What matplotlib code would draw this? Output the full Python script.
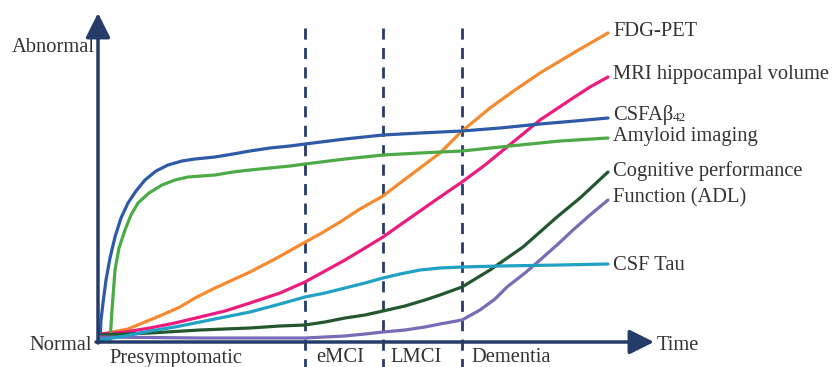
import matplotlib.pyplot as plt

# pixel-like coordinates: x to the right, y downward (Normal ~342, Abnormal ~48)
fdg_x = [102, 128, 145, 162, 180, 195, 215, 250, 275, 300, 320, 340, 360, 383, 400, 420, 440, 462, 490, 515, 540, 575, 608]
fdg_y = [334, 329, 322, 315, 307, 298, 288, 272, 259, 245, 234, 222, 209, 196, 183, 168, 153, 131, 108, 90, 73, 52, 33]

mri_x = [100, 125, 150, 175, 200, 225, 250, 280, 305, 325, 345, 365, 383, 400, 420, 440, 462, 485, 507, 540, 573, 590, 608]
mri_y = [334, 332, 328, 323, 317, 311, 303, 293, 282, 271, 260, 248, 237, 225, 211, 197, 182, 165, 147, 120, 98, 87, 77]

csfab_x = [100, 101, 103, 106, 110, 115, 121, 128, 136, 145, 156, 168, 182, 195, 215, 233, 250, 270, 290, 305, 345, 383, 420, 462, 500, 540, 575, 608]
csfab_y = [342, 320, 303, 280, 258, 237, 218, 203, 191, 180, 171, 165, 161, 159, 157, 154, 151, 148, 146, 144, 139, 135, 133, 131, 128, 124, 121, 118]

amy_x = [110, 112, 115, 119, 125, 131, 138, 149, 162, 175, 188, 215, 233, 250, 270, 290, 305, 345, 383, 420, 462, 510, 560, 608]
amy_y = [342, 310, 270, 248, 230, 215, 203, 193, 185, 180, 177, 175, 172, 170, 168, 166, 164, 159, 155, 153, 151, 146, 141, 138]

cog_x = [100, 150, 200, 250, 280, 305, 325, 345, 365, 383, 405, 425, 440, 462, 490, 523, 557, 580, 608]
cog_y = [335, 333, 330, 328, 326, 325, 322, 318, 315, 311, 306, 300, 295, 287, 270, 247, 217, 198, 172]

func_x = [100, 200, 305, 325, 345, 365, 383, 405, 425, 440, 462, 480, 495, 507, 525, 540, 557, 573, 590, 608]
func_y = [337, 338, 338, 337, 336, 334, 332, 330, 327, 324, 320, 310, 299, 287, 273, 260, 245, 230, 215, 200]

tau_x = [100, 125, 150, 175, 200, 225, 250, 280, 305, 325, 345, 365, 383, 400, 420, 440, 462, 500, 560, 608]
tau_y = [340, 336, 331, 327, 322, 317, 312, 304, 297, 293, 288, 283, 278, 274, 270, 268, 267, 266, 265, 264]

names = ["FDG-PET", "MRI hippocampal volume", "CSFA\u03b2", "Amyloid imaging",
         "Cognitive performance", "Function (ADL)", "CSF Tau"]
label_y = [31, 75, 115, 137, 171, 198, 266]
colors = ["#f58a30", "#ec1c7f", "#2e5aa8", "#4cab47", "#24572e", "#7a6bb6", "#21a1c6"]

stage_x = [305, 383, 462]
stages = ["Presymptomatic", "eMCI", "LMCI", "Dementia"]
stage_pos = [176, 340, 416, 511]

navy = "#253c68"
txt = "#333333"

plt.rcParams["font.family"] = ["Liberation Serif", "DejaVu Serif"]
fs = 14.8

fig = plt.figure(figsize=(8.33, 3.67), dpi=100)
ax = fig.add_axes([0, 0, 1, 1])
ax.set_xlim(0, 833)
ax.set_ylim(367, 0)
ax.axis("off")

# stage separators
for sx in stage_x:
    ax.plot([sx, sx], [28, 367], color=navy, lw=2, ls=(0, (4, 3)), zorder=1)

# axes with arrows
ax.annotate("", xy=(98, 13), xytext=(98, 343),
            arrowprops=dict(arrowstyle="-|>,head_length=1.5,head_width=0.75",
                            color=navy, lw=2.5, shrinkA=0, shrinkB=0), zorder=5)
ax.annotate("", xy=(654, 342), xytext=(96, 342),
            arrowprops=dict(arrowstyle="-|>,head_length=1.5,head_width=0.75",
                            color=navy, lw=2.5, shrinkA=0, shrinkB=0), zorder=5)

series = [(fdg_x, fdg_y), (mri_x, mri_y), (csfab_x, csfab_y), (amy_x, amy_y),
          (cog_x, cog_y), (func_x, func_y), (tau_x, tau_y)]
for (xs, ys), c in zip(series, colors):
    ax.plot(xs, ys, color=c, lw=2.3, solid_capstyle="round", solid_joinstyle="round", zorder=3)

texts = []
for name, ly in zip(names, label_y):
    texts.append(ax.text(613, ly, name, fontsize=fs, color=txt, va="center", ha="left"))

# subscript 42 right after "CSFAβ"
fig.canvas.draw()
bb = texts[2].get_window_extent()
x_end = ax.transData.inverted().transform((bb.x1, bb.y0))[0]
ax.text(x_end, label_y[2] + 3, "42", fontsize=9.5, color=txt, va="center", ha="left")

ax.text(95, 48, "Abnormal", fontsize=fs, color=txt, ha="right", va="center")
ax.text(92, 345, "Normal", fontsize=fs, color=txt, ha="right", va="center")
ax.text(657, 345, "Time", fontsize=fs, color=txt, ha="left", va="center")

for s, px in zip(stages, stage_pos):
    ax.text(px, 358, s, fontsize=fs, color=txt, ha="center", va="center")

plt.savefig("out.png", dpi=100)
